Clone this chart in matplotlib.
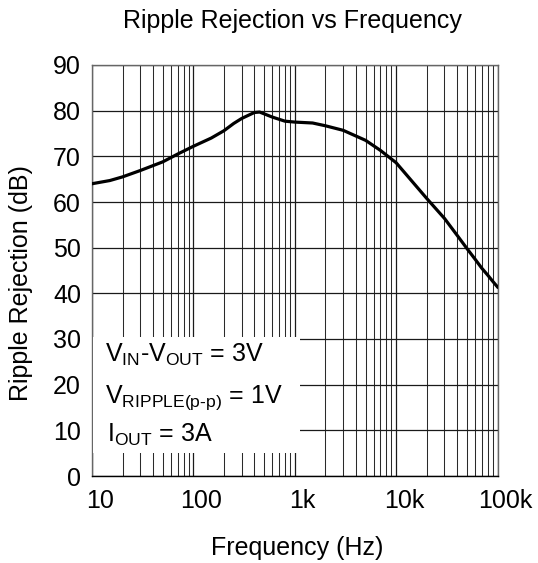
import matplotlib
matplotlib.use("Agg")
import matplotlib.pyplot as plt
import matplotlib.transforms as mtransforms
import numpy as np
from matplotlib.ticker import LogLocator, FixedLocator, NullFormatter

plt.rcParams['font.family'] = ['Liberation Sans', 'DejaVu Sans']
plt.rcParams['mathtext.fontset'] = 'custom'
plt.rcParams['mathtext.rm'] = 'Liberation Sans'

freq_hz = [10, 15, 20, 30, 50, 70, 100, 150, 200, 250, 300, 350, 400, 450, 600, 800, 1000,
           1500, 2000, 3000, 5000, 7000, 10000, 20000, 30000, 40000, 50000, 60000,
           70000, 80000, 90000, 100000]
rejection_db = [64.0, 64.7, 65.5, 66.9, 68.8, 70.5, 72.2, 74.0, 75.6, 77.2, 78.3, 79.0, 79.6,
                79.7, 78.6, 77.7, 77.5, 77.3, 76.7, 75.7, 73.5, 71.3, 68.6, 60.8, 56.4, 52.7,
                49.8, 47.5, 45.5, 44.0, 42.6, 41.4]

x_ticks = [10, 100, 1000, 10000, 100000]
x_ticklabels = ['10', '100', '1k', '10k', '100k']
y_ticks = list(range(0, 91, 10))

W, H = 538, 563
fig = plt.figure(figsize=(W / 100, H / 100), dpi=100)
L, R, T, B = 92, 497.5, 65, 476
ax = fig.add_axes([L / W, 1 - B / H, (R - L) / W, (B - T) / H])

ax.plot(freq_hz, rejection_db, color='black', lw=2.3, zorder=3, solid_joinstyle='round')
ax.set_xscale('log')
ax.set_xlim(10, 100000)
ax.set_ylim(0, 90)
ax.xaxis.set_major_locator(FixedLocator(x_ticks))
ax.set_xticklabels(x_ticklabels)
ax.xaxis.set_minor_locator(LogLocator(base=10, subs=np.arange(2, 10)))
ax.xaxis.set_minor_formatter(NullFormatter())
ax.set_yticks(y_ticks)

ax.grid(which='major', axis='both', color='#1a1a1a', lw=0.9)
ax.grid(which='minor', axis='x', color='#2a2a2a', lw=0.75)
ax.tick_params(which='both', length=0, labelsize=18)
ax.tick_params(axis='y', pad=8)
ax.tick_params(axis='x', pad=9)
offset = mtransforms.ScaledTranslation(8 / 100, 0, fig.dpi_scale_trans)
for lab in ax.get_xticklabels():
    lab.set_transform(lab.get_transform() + offset)
for s in ax.spines.values():
    s.set_color('#666666')
    s.set_linewidth(1.0)
ax.spines['bottom'].set_color('black')

fig.text(297 / W, 1 - 548 / H, 'Frequency (Hz)', ha='center', va='center', fontsize=18)
fig.text(21 / W, 1 - 283 / H, 'Ripple Rejection (dB)', ha='center', va='center',
         rotation=90, fontsize=18)
fig.text(292 / W, 1 - 21 / H, 'Ripple Rejection vs Frequency', ha='center', va='center', fontsize=18)

# annotation box
box = matplotlib.patches.Rectangle((L + 1, H - 453), 300 - L - 1, 453 - 337, transform=None,
                                   facecolor='white', edgecolor='none', zorder=4)
fig.patches.append(box)
fig.text(105 / W, 1 - 362 / H, r'V$_{\mathregular{IN}}$-V$_{\mathregular{OUT}}$ = 3V',
         fontsize=18, va='baseline', zorder=5)
fig.text(105 / W, 1 - 403 / H, r'V$_{\mathregular{RIPPLE(p\text{-}p)}}$ = 1V',
         fontsize=18, va='baseline', zorder=5)
fig.text(107 / W, 1 - 442 / H, r'I$_{\mathregular{OUT}}$ = 3A',
         fontsize=18, va='baseline', zorder=5)

fig.savefig('out.png', dpi=100)
